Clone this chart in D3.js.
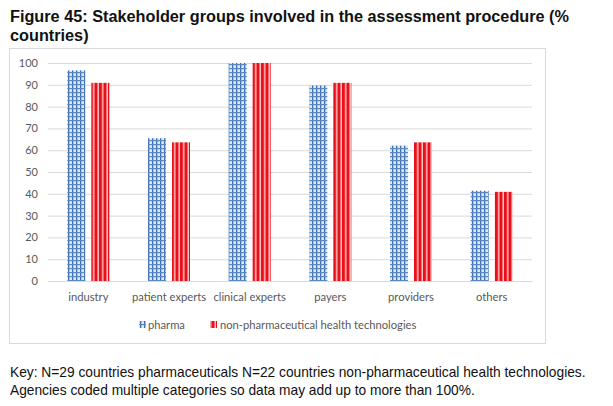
<!DOCTYPE html>
<html><head><meta charset="utf-8">
<script src="https://cdnjs.cloudflare.com/ajax/libs/d3/7.8.5/d3.min.js"></script>
<style>body{margin:0;background:#fff;}svg{display:block;}</style>
</head><body>
<script>
const categories = ["industry","patient experts","clinical experts","payers","providers","others"];
const pharma = [96.6, 65.5, 100, 89.7, 62.1, 41.4];
const nonPharma = [90.9, 63.6, 100, 90.9, 63.6, 40.9];
const seriesNames = ["pharma","non-pharmaceutical health technologies"];
const yTicks = [0,10,20,30,40,50,60,70,80,90,100];
const titleLines = ["Figure 45: Stakeholder groups involved in the assessment procedure (%","countries)"];
const noteLines = ["Key: N=29 countries pharmaceuticals N=22 countries non-pharmaceutical health technologies.","Agencies coded multiple categories so data may add up to more than 100%."];

const W=613,H=406;
const svg=d3.select("body").append("svg").attr("width",W).attr("height",H);
const defs=svg.append("defs");
const pb=defs.append("pattern").attr("id","pBlue").attr("patternUnits","userSpaceOnUse").attr("width",4).attr("height",4);
pb.append("rect").attr("width",4).attr("height",4).attr("fill","#dde8f5");
pb.append("rect").attr("x",0).attr("y",0).attr("width",1.3).attr("height",4).attr("fill","#3f6fb0");
pb.append("rect").attr("x",0).attr("y",0).attr("width",4).attr("height",1.2).attr("fill","#5a88c4");
const pr=defs.append("pattern").attr("id","pRed").attr("patternUnits","userSpaceOnUse").attr("width",4.5).attr("height",4);
pr.append("rect").attr("width",4.5).attr("height",4).attr("fill","#ffc2c2");
pr.append("rect").attr("x",0).attr("width",3).attr("height",4).attr("fill","#e8101a");

svg.append("g").selectAll("text").data(titleLines).join("text")
  .attr("x",10).attr("y",(d,i)=>22+i*19)
  .attr("font-family","Liberation Sans, Arial, sans-serif").attr("font-weight","bold").attr("font-size",16.25)
  .attr("fill","#111").text(d=>d);

svg.append("rect").attr("x",9.5).attr("y",48.5).attr("width",536).attr("height",295)
  .attr("fill","#fff").attr("stroke","#d9d9d9");

const x=d3.scaleBand().domain(categories).range([48,532]);
const y=d3.scaleLinear().domain([0,100]).range([281,63]);

const yAxis=svg.append("g").attr("transform","translate(48,0)")
  .call(d3.axisLeft(y).tickValues(yTicks).tickSize(-484).tickPadding(10));
yAxis.select(".domain").remove();
yAxis.selectAll(".tick line").attr("stroke","#d9d9d9");
yAxis.selectAll(".tick text").attr("font-family","Lato, 'Open Sans', sans-serif").attr("font-size",11).attr("fill","#595959");

const bw=18, gap=6;
const g=svg.append("g");
g.selectAll(".b1").data(categories).join("rect")
  .attr("x",d=>x(d)+x.bandwidth()/2-gap/2-bw)
  .attr("y",(d,i)=>y(pharma[i])).attr("width",bw).attr("height",(d,i)=>y(0)-y(pharma[i]))
  .attr("fill","url(#pBlue)");
g.selectAll(".b2").data(categories).join("rect")
  .attr("x",d=>x(d)+x.bandwidth()/2+gap/2)
  .attr("y",(d,i)=>y(nonPharma[i])).attr("width",bw).attr("height",(d,i)=>y(0)-y(nonPharma[i]))
  .attr("fill","url(#pRed)");

const xAxis=svg.append("g").attr("transform","translate(0,281)")
  .call(d3.axisBottom(x).tickSize(0).tickPadding(12));
xAxis.select(".domain").attr("stroke","#d9d9d9");
xAxis.selectAll(".tick text").attr("font-family","Lato, 'Open Sans', sans-serif").attr("font-size",11.2).attr("fill","#595959");

const lg=svg.append("g").attr("font-family","Lato, 'Open Sans', sans-serif").attr("font-size",11.2).attr("fill","#595959");
lg.append("rect").attr("x",139).attr("y",321).attr("width",7).attr("height",7).attr("fill","url(#pBlue)");
lg.append("text").attr("x",148).attr("y",329).text(seriesNames[0]);
lg.append("rect").attr("x",210).attr("y",321).attr("width",7).attr("height",7).attr("fill","url(#pRed)");
lg.append("text").attr("x",220).attr("y",329).text(seriesNames[1]);

svg.append("g").selectAll("text").data(noteLines).join("text")
  .attr("x",10).attr("y",(d,i)=>377+i*18)
  .attr("font-family","Liberation Sans, Arial, sans-serif").attr("font-size",13.75)
  .attr("fill","#111").text(d=>d);
</script>
</body></html>
